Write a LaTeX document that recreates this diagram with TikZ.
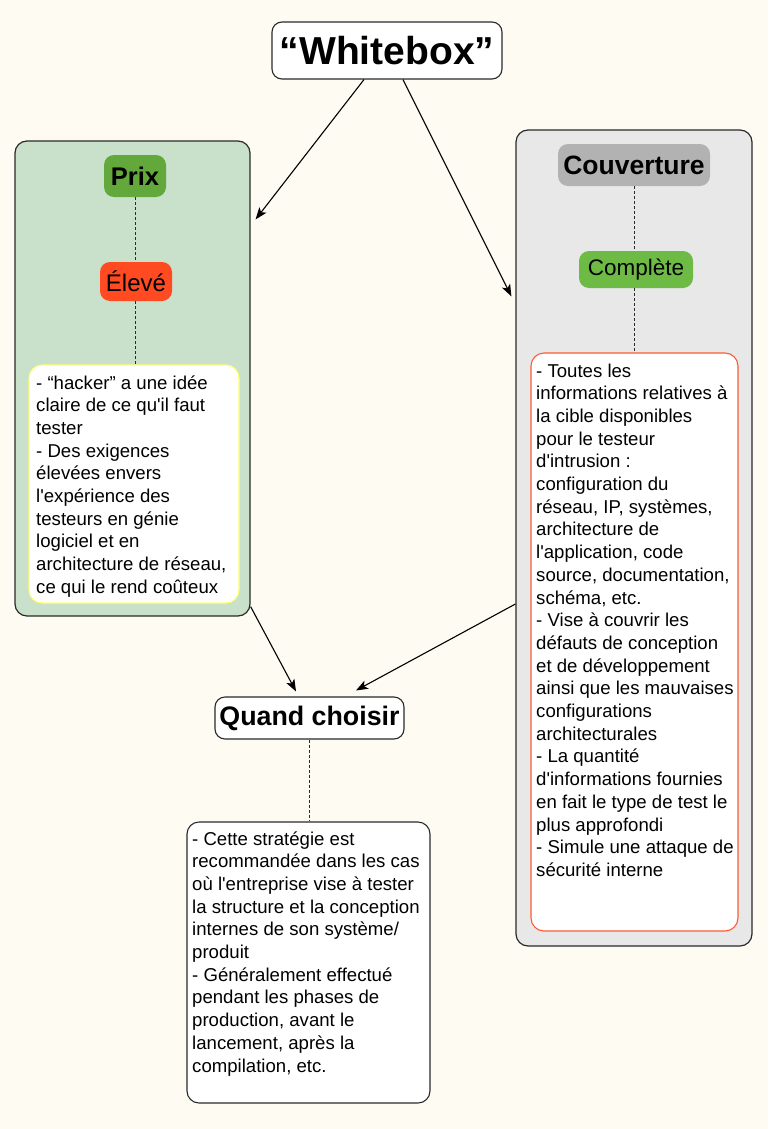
\documentclass[tikz,border=0pt]{standalone}
\usepackage{fontspec}
\setmainfont{Liberation Sans}
\usetikzlibrary{arrows.meta}
\definecolor{bgc}{HTML}{FEFBF2}
\definecolor{grpL}{HTML}{C9E0CB}
\definecolor{grpR}{HTML}{E8E8E8}
\definecolor{prixg}{HTML}{62A83B}
\definecolor{compg}{HTML}{6DBB45}
\definecolor{elevr}{HTML}{FF4A22}
\definecolor{couvg}{HTML}{B2B2B2}
\definecolor{ylw}{HTML}{FFFF70}
\definecolor{orgb}{HTML}{FF5A33}
\definecolor{edge}{HTML}{2A2A2A}
\newcommand\ap{\textquotesingle}
\begin{document}
\begin{tikzpicture}[x=1pt,y=1pt,
  grp/.style={draw=edge,line width=1.2pt,rounded corners=12pt,inner sep=0pt},
  title/.style={draw=edge,fill=white,line width=1.1pt,rounded corners=10pt,inner sep=0pt},
  tag/.style={rounded corners=10pt,inner sep=0pt},
  tbox/.style={fill=white,line width=1.1pt,rounded corners=13pt,inner sep=0pt},
  body/.style={anchor=base west,inner sep=0pt},
  dline/.style={draw=edge,line width=1pt,dash pattern=on 3pt off 2pt},
  arr/.style={draw=black,line width=1.1pt,-{Stealth[length=12pt,width=9pt,inset=3pt]}}]
\fill[bgc] (0,0) rectangle (768,-1129);
\useasboundingbox (0,0) rectangle (768,-1129);
% groups
\node[grp,fill=grpL,minimum width=235pt,minimum height=475pt] (left) at (132.5,-378.5) {};
\node[grp,fill=grpR,minimum width=236pt,minimum height=816pt] (right) at (634,-538) {};
% title
\node[title,minimum width=230pt,minimum height=57pt,font=\bfseries\fontsize{39}{44}\selectfont] (wb) at (387,-50.5) {“Whitebox”};
% left group content
\node[tag,fill=prixg,minimum width=62pt,minimum height=42pt,font=\bfseries\fontsize{25.5}{30}\selectfont] (prix) at (135,-176) {Prix};
\node[tag,fill=elevr,minimum width=72pt,minimum height=39pt,font=\fontsize{24}{28}\selectfont] (elev) at (136,-281.5) {Élevé};
\node[tbox,draw=ylw,minimum width=210pt,minimum height=238pt] (lbox) at (134,-484) {};
\node[body] (ltext) at (36,-389) {\parbox[t]{205pt}{\raggedright\fontsize{18.6}{22.7}\selectfont
- “hacker” a une idée\\
claire de ce qu\ap il faut\\
tester\\
- Des exigences\\
élevées envers\\
l\ap expérience des\\
testeurs en génie\\
logiciel et en\\
architecture de réseau,\\
ce qui le rend coûteux}};
\draw[dline] (prix.south) -- (prix.south |- elev.north);
\draw[dline] (prix.south |- elev.south) -- (prix.south |- lbox.north);
% right group content
\node[tag,fill=couvg,minimum width=152pt,minimum height=42pt,font=\bfseries\fontsize{26.5}{31}\selectfont] (couv) at (634,-165) {Couverture};
\node[tag,fill=compg,minimum width=114pt,minimum height=37pt,font=\fontsize{22.5}{26}\selectfont] (comp) at (636,-269.5) {Complète};
\node[tbox,draw=orgb,minimum width=207pt,minimum height=578pt] (rbox) at (634.5,-642) {};
\node[body] (rtext) at (536,-377) {\parbox[t]{205pt}{\raggedright\fontsize{18.6}{22.7}\selectfont
- Toutes les\\
informations relatives à\\
la cible disponibles\\
pour le testeur\\
d\ap intrusion :\\
configuration du\\
réseau, IP, systèmes,\\
architecture de\\
l\ap application, code\\
source, documentation,\\
schéma, etc.\\
- Vise à couvrir les\\
défauts de conception\\
et de développement\\
ainsi que les mauvaises\\
configurations\\
architecturales\\
- La quantité\\
d\ap informations fournies\\
en fait le type de test le\\
plus approfondi\\
- Simule une attaque de\\
sécurité interne}};
\draw[dline] (couv.south) -- (couv.south |- comp.north);
\draw[dline] (couv.south |- comp.south) -- (couv.south |- rbox.north);
% bottom
\node[title,minimum width=189pt,minimum height=42pt,font=\bfseries\fontsize{26.8}{31}\selectfont] (qc) at (309.5,-718) {Quand choisir};
\node[tbox,draw=edge,rounded corners=12pt,minimum width=243pt,minimum height=281pt] (bbox) at (308.5,-962.5) {};
\node[body] (btext) at (192,-845) {\parbox[t]{238pt}{\raggedright\fontsize{18.6}{22.7}\selectfont
- Cette stratégie est\\
recommandée dans les cas\\
où l\ap entreprise vise à tester\\
la structure et la conception\\
internes de son système/\\
produit\\
- Généralement effectué\\
pendant les phases de\\
production, avant le\\
lancement, après la\\
compilation, etc.}};
\draw[dline] (qc.south) -- (qc.south |- bbox.north);
% arrows
\draw[arr] ([xshift=-23pt]wb.south) -- ([xshift=5pt,yshift=-79pt]left.north east);
\draw[arr] ([xshift=16pt]wb.south) -- ([xshift=-4pt,yshift=-167pt]right.north west);
\draw[arr] ([yshift=10pt]left.south east) -- ([xshift=-13.5pt,yshift=5pt]qc.north);
\draw[arr] ([yshift=-66pt]right.west) -- ([xshift=46.5pt,yshift=6pt]qc.north);
\end{tikzpicture}
\end{document}
